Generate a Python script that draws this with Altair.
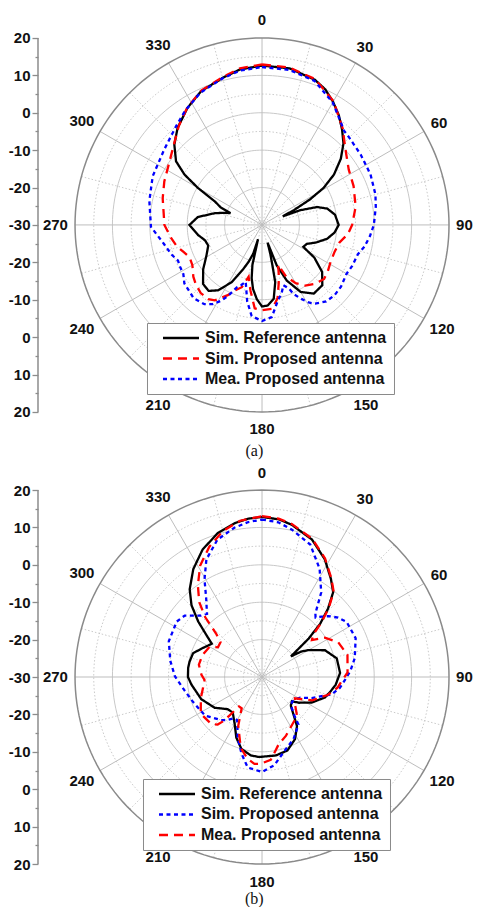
import altair as alt
import pandas as pd

FONT = "Liberation Sans"
SERIES = ["Sim. Reference antenna", "Sim. Proposed antenna", "Mea. Proposed antenna"]

# ---------------- panel (a): [angle (deg), gain (dB)] ----------------
A_SIM_REF = [(0, 12.6), (10, 12.5), (20, 11.3), (25, 10.0), (30, 8.0), (35, 5.8), (40, 3.3), (45, 0.8),
             (50, -2.5), (55, -6.5), (59, -10.8), (62, -15.5), (65, -20.5), (67.5, -24), (69, -19),
             (72, -14.5), (76, -12), (82, -10.3), (90, -9.5), (96, -10.5), (102, -12.2), (108, -14.8),
             (113, -17), (118, -17.5), (122, -13.5), (128, -9.6), (135, -7.2), (143, -7.0), (150, -9.3),
             (156, -13.7), (160, -18.5), (162.5, -25), (164, -22), (165.5, -19), (167, -14.3), (171, -10),
             (176, -8.4), (180, -8.2), (184, -10.1), (188, -12.7), (191, -15.5), (193.5, -19), (195.5, -26),
             (197, -21.9), (200, -19.5), (203, -17.2), (208, -12.6), (214, -8.9), (219, -7.3), (225, -7.7),
             (233, -10.3), (241, -13), (249, -14.6), (255, -14.2), (261, -12.7), (270, -10.6), (277, -12.7),
             (284, -17), (288, -19.5), (290.5, -21), (293, -18), (296.5, -15.9), (300, -10.2), (303, -5.3),
             (306.5, -1.4), (312.5, 1.8), (319, 4.4), (327.5, 7.1), (335.5, 9.3), (345.5, 10.8), (352, 12.0),
             (360, 12.6)]
A_SIM_PROP = [(0, 12.9), (10, 12.7), (20, 11.5), (30, 8.2), (40, 3.6), (45, 1.2), (50, -0.6), (57.5, -2.5),
              (67, -3.4), (79, -4.5), (90, -5.9), (96, -6.9), (103, -8.8), (110, -9.3), (118, -9.2),
              (125, -8.5), (131, -8.0), (138, -8.8), (144.5, -10.1), (150, -12), (155, -14.8), (158, -18.5),
              (161, -16.3), (164, -13.8), (168, -10), (173, -7.4), (180, -7.2), (185, -7.6), (190, -12.2),
              (194.5, -15.7), (198, -12.5), (203, -10.8), (206, -9.1), (212, -6.2), (216, -5.5), (222, -5.5),
              (228, -6.2), (233, -7.0), (240, -8.5), (246, -8.8), (251, -7.8), (256, -6.5), (262, -5.4),
              (270, -3.9), (277, -3.5), (285, -2.5), (294, -1.4), (304.5, 0.0), (314, 2.4), (320, 4.6),
              (327.5, 7.2), (335.5, 9.4), (345.5, 11.0), (352, 12.3), (360, 12.9)]
A_MEA_PROP = [(0, 12.2), (10, 12.1), (20, 11.0), (30, 7.8), (37, 4.8), (41, 3.4), (45, 3.0), (54.5, 2.4),
              (65, 2.0), (75, 1.4), (81, 0.8), (90, -0.1), (96, -1.0), (102, -2.0), (107, -3.2), (114.5, -3.5),
              (120, -3.9), (128, -3.2), (134, -3.0), (140, -3.3), (146, -4.6), (149, -5.8), (152, -7.6),
              (155.5, -9.7), (157, -11.5), (160.5, -12.9), (164, -11), (168, -9.4), (174, -5.2), (180, -4.3),
              (186.5, -5.5), (191, -9.2), (196, -14.2), (199, -13), (202, -12), (205, -9.5), (208, -7.1),
              (212, -5), (216, -3.8), (223, -3.2), (233, -4.0), (238, -5.2), (243, -5.4), (247, -5.6),
              (252, -4.5), (259, -3.3), (269, -0.3), (282, 0.8), (294, 2.0), (307.5, 3.0), (319, 5.0),
              (326, 6.8), (335, 9.0), (345, 10.6), (352, 11.7), (360, 12.2)]

# ---------------- panel (b): [angle (deg), gain (dB)] ----------------
B_SIM_REF = [(0, 12.8), (6, 12.4), (11, 11.5), (20, 9.1), (28, 5.7), (35, 2.1), (40, -0.4), (44, -4.6),
             (47.5, -8.9), (50.5, -13.8), (54.5, -20.5), (57, -17.5), (60, -15.6), (67, -11.7), (76, -9.4),
             (87, -9.1), (96, -10.2), (102, -11.3), (108, -12.3), (117, -15), (125, -18), (129, -19.7),
             (135, -19.1), (140, -16.9), (144.5, -13.9), (152, -11.2), (161, -9.2), (170, -8.7), (182, -8.6),
             (188, -8.8), (196, -10), (203, -12.4), (210, -15.4), (219.5, -17.7), (227, -17.4), (237, -14.9),
             (250, -12.7), (264, -11), (270, -10.2), (277, -10.1), (282, -10.2), (289, -10.5), (295, -12.1),
             (303.5, -13.9), (307, -11.4), (311, -7.4), (315.5, -3.1), (320.5, 0.4), (327.5, 4.2), (335, 7.6),
             (343, 10.3), (350, 11.8), (355, 12.5), (360, 12.8)]
B_SIM_PROP = [(0, 12.1), (6, 11.6), (11.5, 10.2), (20, 7.7), (28, 2.8), (35, -2.4), (40, -7.8), (42, -8.6),
              (44.5, -7.4), (47.5, -5.9), (52, -4.2), (57, -3.0), (67.5, -2.9), (78.5, -4.7), (86, -6.3),
              (92, -7.8), (98, -9.0), (104, -10.8), (113, -15.6), (118.5, -18.4), (122, -19.0), (129, -19.6),
              (135, -19.0), (140, -16.5), (142.5, -14.0), (153, -11.4), (164, -9.1), (172, -6.2), (180, -4.6),
              (189, -5.5), (195, -8.8), (202, -12.6), (206, -15), (210, -16.7), (214, -16.7), (219, -15.2),
              (223.5, -14.1), (236, -11.6), (250, -10.4), (260, -9), (270.5, -6.7), (280, -5.1), (291, -3.3),
              (303, -2.8), (308.5, -3.6), (311, -5), (315, -6.8), (319, -7.6), (321, -6.5), (324.5, -4.3),
              (329.5, 0.3), (334.7, 4.8), (342, 8.6), (349.5, 10.6), (355, 11.6), (360, 12.1)]
B_MEA_PROP = [(0, 13.0), (6, 12.6), (11, 11.7), (20, 9.3), (28, 5.9), (35, 2.3), (40, -0.2), (44, -4.3),
              (47.5, -8.5), (50.5, -12.3), (53.5, -13.4), (58, -10.2), (65.5, -7.6), (75.5, -6.4), (87, -7.1),
              (93, -8.7), (98, -9.6), (105, -11.7), (115, -15.2), (123, -19.5), (129, -18.7), (138, -16),
              (150.5, -14.5), (158, -13), (166, -11.5), (174, -7.7), (181, -6.8), (185, -6.7), (190, -7.8),
              (196, -10), (198, -11.2), (206, -15.5), (213, -20), (218, -20), (221, -14.5), (223, -12.6),
              (227, -11.5), (239, -10.9), (251, -12.7), (260, -14), (267, -14.6), (272, -13.8), (281, -12.8),
              (290, -13), (300, -13.8), (304, -15.8), (310, -15.5), (313.5, -13), (316.5, -7.9), (320, -3.9),
              (325, -0.1), (331, 4.1), (338, 7.6), (345, 10.4), (352, 12.2), (360, 13.0)]

ANGLE_TICKS = [0, 30, 60, 90, 120, 150, 180, 210, 240, 270, 300, 330]
R_MIN, R_MAX = -30, 20                        # radial axis range (dB)
SOLID_RINGS = [-20, -10, 0, 10]
DOTTED_RINGS = [-25, -15, -5, 5, 15]
SOLID_SPOKES = [0, 30, 60, 90, 120, 150, 180, 210, 240, 270, 300, 330]
DOTTED_SPOKES = [15, 45, 75, 105, 135, 165, 195, 225, 255, 285, 315, 345]
UNIT = 3.74                                   # pixels per dB on the radial axis
SPAN = R_MAX - R_MIN


def curves_df(series_lists):
    rows = []
    for name, pts in series_lists:
        for i, (a, g) in enumerate(pts):
            rows.append({"series": name, "angle": a, "gain": g, "i": i})
    return pd.DataFrame(rows)


rings_rows = []
for kind, rings in (("solid", SOLID_RINGS), ("dotted", DOTTED_RINGS), ("outer", [R_MAX])):
    for g in rings:
        for a in range(0, 361, 2):
            rings_rows.append({"kind": kind, "ring": g, "angle": a, "gain": g})
RINGS = pd.DataFrame(rings_rows)

spoke_rows = []
for kind, angs in (("solid", SOLID_SPOKES), ("dotted", DOTTED_SPOKES)):
    for a in angs:
        for g in (R_MIN, R_MAX):
            spoke_rows.append({"kind": kind, "angle": a, "gain": g})
SPOKES = pd.DataFrame(spoke_rows)

LABELS = pd.DataFrame({"angle": ANGLE_TICKS, "text": [str(a) for a in ANGLE_TICKS]})
AXIS_LINE = pd.DataFrame({"py": [-SPAN], "py2": [SPAN]})


def polar(ch):
    return ch.transform_calculate(
        rr=f"max(datum.gain - ({R_MIN}), 0)"
    ).transform_calculate(
        px="datum.rr * sin(datum.angle * PI / 180)",
        py="datum.rr * cos(datum.angle * PI / 180)",
    )


def label_pos(ch):
    # place each angle label just outside the outer ring, clearing its own text box
    return ch.transform_calculate(
        s="sin(datum.angle * PI / 180)", c="cos(datum.angle * PI / 180)"
    ).transform_calculate(
        rr=f"{SPAN} + (7 + abs(datum.s) * length(datum.text) * 4.2 + abs(datum.c) * 5.5"
           f" + 5 * pow(datum.c, 4)) / {UNIT}"
    ).transform_calculate(
        px="datum.rr * datum.s", py="datum.rr * datum.c"
    )


Y_AXIS = alt.Axis(
    title=None, domain=False, grid=False,
    values=list(range(-50, 51, 5)),
    labelExpr="abs(datum.value) % 10 == 0 ? '' + (abs(datum.value) - 30) : ''",
    tickSize={"condition": {"test": "abs(datum.value) % 10 == 0", "value": 6}, "value": 3},
    tickColor="#8c8c8c", tickWidth=1.3,
    labelFont=FONT, labelFontSize=15, labelFontWeight="bold", labelColor="#111111",
    labelPadding=2, labelOverlap=False, labelFlush=False,
)


def panel(curves, colors, dashes, xdom, ydom, legend_xy, caption):
    w = (xdom[1] - xdom[0]) * UNIT
    h = (ydom[1] - ydom[0]) * UNIT
    xs = alt.Scale(domain=xdom, nice=False, zero=False)
    ys = alt.Scale(domain=ydom, nice=False, zero=False)

    def X():
        return alt.X("px:Q", scale=xs, axis=None)

    def Y():
        return alt.Y("py:Q", scale=ys, axis=Y_AXIS)

    rings = alt.Chart(RINGS)
    dotted_r = polar(rings.transform_filter("datum.kind == 'dotted'")).mark_line(
        color="#c4c4c4", strokeWidth=0.9, strokeDash=[1.5, 2]
    ).encode(x=X(), y=Y(), detail="ring:N", order="angle:Q")
    solid_r = polar(rings.transform_filter("datum.kind == 'solid'")).mark_line(
        color="#c8c8c8", strokeWidth=1
    ).encode(x=X(), y=Y(), detail="ring:N", order="angle:Q")
    outer_r = polar(rings.transform_filter("datum.kind == 'outer'")).mark_line(
        color="#8a8a8a", strokeWidth=1.5
    ).encode(x=X(), y=Y(), detail="ring:N", order="angle:Q")

    spokes = alt.Chart(SPOKES)
    dotted_s = polar(spokes.transform_filter("datum.kind == 'dotted'")).mark_line(
        color="#c4c4c4", strokeWidth=0.9, strokeDash=[1.5, 2]
    ).encode(x=X(), y=Y(), detail="angle:N", order="gain:Q")
    solid_s = polar(spokes.transform_filter("datum.kind == 'solid'")).mark_line(
        color="#bdbdbd", strokeWidth=1
    ).encode(x=X(), y=Y(), detail="angle:N", order="gain:Q")

    labels = label_pos(alt.Chart(LABELS)).mark_text(
        font=FONT, fontSize=15, fontWeight="bold", color="#111111",
        align="center", baseline="middle"
    ).encode(x=X(), y=Y(), text="text:N")

    axis_line = alt.Chart(AXIS_LINE).mark_rule(color="#8c8c8c", strokeWidth=1.5).encode(
        x=alt.value(0), y=Y(), y2="py2:Q"
    )

    leg = alt.Legend(
        orient="none", legendX=legend_xy[0], legendY=legend_xy[1], title=None,
        direction="vertical", symbolType="M-3,0H3", symbolSize=144, symbolStrokeWidth=2.5,
        labelFont=FONT, labelFontSize=16, labelFontWeight="bold", labelColor="#111111",
        labelExpr="datum.label + '\u00a0\u00a0'",
        fillColor="white", strokeColor="#8a8a8a", padding=7, rowPadding=4.5,
        labelOffset=16, symbolOffset=19, labelLimit=400,
    )
    lines = polar(alt.Chart(curves_df(curves))).mark_line(strokeWidth=2.3).encode(
        x=X(), y=Y(),
        color=alt.Color("series:N", scale=alt.Scale(domain=SERIES, range=colors), legend=leg),
        strokeDash=alt.StrokeDash("series:N", scale=alt.Scale(domain=SERIES, range=dashes), legend=leg),
        order="i:Q",
    )

    return alt.layer(dotted_r, solid_r, dotted_s, solid_s, outer_r, labels, axis_line, lines).properties(
        width=w, height=h,
        title=alt.TitleParams(caption, orient="bottom", anchor="middle", font="Liberation Serif",
                              fontSize=16, fontWeight="normal", color="#111111", offset=1),
    )


pa = panel(
    [(SERIES[0], A_SIM_REF), (SERIES[1], A_SIM_PROP), (SERIES[2], A_MEA_PROP)],
    ["#000000", "#ff0000", "#0000ff"], [[1, 0], [9, 6], [4, 3.5]],
    [-59.9, 55.8], [-58.0, 58.0], (109, 315), "(a)",
)
pb = panel(
    [(SERIES[0], B_SIM_REF), (SERIES[1], B_SIM_PROP), (SERIES[2], B_MEA_PROP)],
    ["#000000", "#0000ff", "#ff0000"], [[1, 0], [4, 3.5], [9, 6]],
    [-59.9, 55.8], [-55.6, 58.56], (105, 321), "(b)",
)

chart = alt.vconcat(pa, pb, spacing=16, bounds="flush").resolve_scale(
    x="independent", y="independent", color="independent", strokeDash="independent"
).resolve_legend(color="independent", strokeDash="independent").properties(
    padding={"left": 0, "top": 0, "right": 0, "bottom": 0}
).configure_view(stroke=None)

chart.save("out.html", embed_options={"renderer": "svg", "actions": False})
